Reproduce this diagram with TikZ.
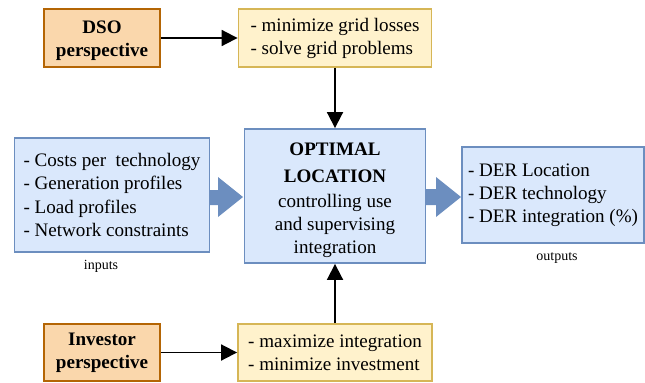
\documentclass[tikz,border=0pt]{standalone}
\usepackage{fontspec}
\setmainfont{Liberation Serif}
\usetikzlibrary{arrows.meta}
\definecolor{orfill}{HTML}{FAD7AC}
\definecolor{ordraw}{HTML}{B46504}
\definecolor{yefill}{HTML}{FFF2CC}
\definecolor{yedraw}{HTML}{D6B656}
\definecolor{blfill}{HTML}{DAE8FC}
\definecolor{bldraw}{HTML}{6C8EBF}
\definecolor{blarrow}{HTML}{6C8EBF}
\tikzset{
  sz/.style 2 args={minimum width=#1*0.75pt, minimum height=#2*0.75pt},
  base/.style={draw, line width=1.4pt, inner sep=0pt, align=center,
    font=\fontsize{14.3}{17.3}\selectfont},
  persp/.style={base, fill=orfill, draw=ordraw, line width=1.6pt,
    font=\fontsize{14.3}{17.3}\selectfont\bfseries},
  goal/.style={base, fill=yefill, draw=yedraw, align=left},
  info/.style={base, fill=blfill, draw=bldraw},
  conn/.style={line width=1.4pt, -{Triangle[length=12pt,width=12pt]}},
  block/.style={fill=blarrow},
  caption/.style={font=\fontsize{10.5}{12}\selectfont}
}
\begin{document}
\begin{tikzpicture}[x=0.75pt,y=-0.75pt]
\useasboundingbox (0,0) rectangle (645,382);
\node[persp, sz={116}{58}] (dso) at (102,38) {\rule{0pt}{13pt}DSO\\perspective};
\node[goal, sz={193}{58}] (topgoal) at (335,38) {- minimize grid losses\\- solve grid problems};
\node[info, sz={181}{134}] (center) at (335,196) {\rule{0pt}{16pt}\textbf{OPTIMAL}\\[3pt]\textbf{LOCATION}\\[1.5pt]controlling use\\and supervising\\integration};
\node[info, sz={195}{114}, align=left] (inputs) at (112,195) {- Costs per\ \ technology\\- Generation profiles\\- Load profiles\\- Network constraints};
\node[info, sz={182}{96}, align=left] (outputs) at (553,195) {- DER Location\\- DER technology\\- DER integration (\%)};
\node[persp, sz={116}{57}] (investor) at (102,352.5) {Investor\\perspective};
\node[goal, sz={194}{57}] (botgoal) at (335,352.5) {- maximize integration\\- minimize investment};
\node[caption] (inlab) at (101,266) {inputs};
\node[caption] (outlab) at (557,258) {outputs};
\draw[conn] (dso) -- (topgoal);
\draw[conn] (topgoal.south) -- (center.north);
\draw[conn] (botgoal.north) -- (center.south);
\draw[conn] (investor) -- (botgoal);
\fill[block] (209,190) -- (218,190) -- (218,177) -- (243,197) -- (218,217) -- (218,205) -- (209,205) -- cycle;
\fill[block] (425,189) -- (436,189) -- (436,177) -- (461,197) -- (436,217) -- (436,205) -- (425,205) -- cycle;
\end{tikzpicture}
\end{document}
